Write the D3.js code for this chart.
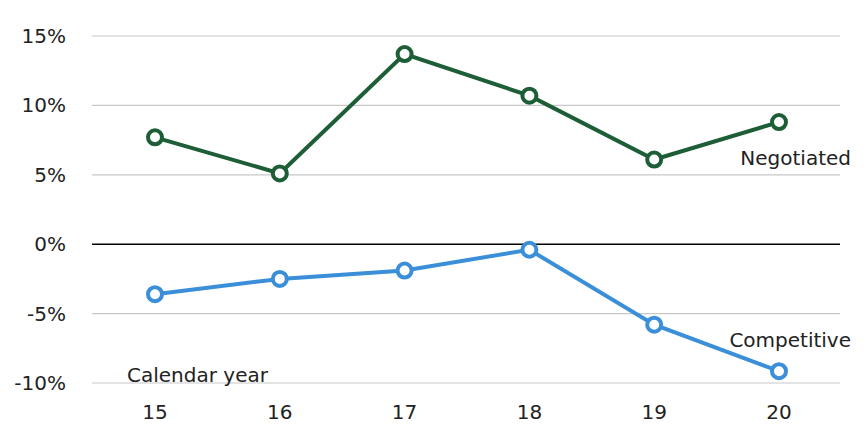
<!DOCTYPE html>
<html>
<head>
<meta charset="utf-8">
<script src="https://cdn.jsdelivr.net/npm/d3@7"></script>
<style>
  body { margin: 0; background: #fff; }
  text { font-family: Verdana, "DejaVu Sans", sans-serif; }
</style>
</head>
<body>
<div id="chart"></div>
<script>
const years = ["15", "16", "17", "18", "19", "20"];
const negotiated = [7.7, 5.1, 13.7, 10.7, 6.1, 8.8];
const competitive = [-3.6, -2.5, -1.9, -0.4, -5.8, -9.15];
const yTicks = [-10, -5, 0, 5, 10, 15];

const width = 864, height = 441;
const margin = { top: 36, right: 24, bottom: 58, left: 92 };

const svg = d3.select("#chart").append("svg")
  .attr("width", width)
  .attr("height", height);

// x positions: category centres
const x = d3.scalePoint()
  .domain(years)
  .range([155, 779]);

const y = d3.scaleLinear()
  .domain([-10, 15])
  .range([383, 36]);

// gridlines
svg.append("g")
  .selectAll("line")
  .data(yTicks)
  .join("line")
    .attr("x1", margin.left)
    .attr("x2", width - margin.right)
    .attr("y1", d => y(d))
    .attr("y2", d => y(d))
    .attr("stroke", d => d === 0 ? "#000" : "#c8c8c8")
    .attr("stroke-width", d => d === 0 ? 1.5 : 1.2);

// y tick labels
svg.append("g")
  .selectAll("text")
  .data(yTicks)
  .join("text")
    .attr("x", 66)
    .attr("y", d => y(d))
    .attr("dy", "0.35em")
    .attr("text-anchor", "end")
    .attr("font-size", 20)
    .attr("fill", "#222")
    .text(d => `${d}%`);

// x tick labels
svg.append("g")
  .selectAll("text")
  .data(years)
  .join("text")
    .attr("x", d => x(d))
    .attr("y", 419)
    .attr("text-anchor", "middle")
    .attr("font-size", 20)
    .attr("fill", "#222")
    .text(d => d);

const line = d3.line()
  .x((d, i) => x(years[i]))
  .y(d => y(d));

function drawSeries (values, color) {
  svg.append("path")
    .datum(values)
    .attr("d", line)
    .attr("fill", "none")
    .attr("stroke", color)
    .attr("stroke-width", 4);

  svg.append("g")
    .selectAll("circle")
    .data(values)
    .join("circle")
      .attr("cx", (d, i) => x(years[i]))
      .attr("cy", d => y(d))
      .attr("r", 7)
      .attr("fill", "#fff")
      .attr("stroke", color)
      .attr("stroke-width", 4);
}

drawSeries(negotiated, "#1d5e37");
drawSeries(competitive, "#3a8fd8");

// labels
svg.append("text")
  .attr("x", 851).attr("y", 165)
  .attr("text-anchor", "end")
  .attr("font-size", 20).attr("fill", "#222")
  .text("Negotiated");

svg.append("text")
  .attr("x", 851).attr("y", 347)
  .attr("text-anchor", "end")
  .attr("font-size", 20).attr("fill", "#222")
  .text("Competitive");

svg.append("text")
  .attr("x", 127).attr("y", 382)
  .attr("font-size", 20).attr("fill", "#222")
  .text("Calendar year");
</script>
</body>
</html>
